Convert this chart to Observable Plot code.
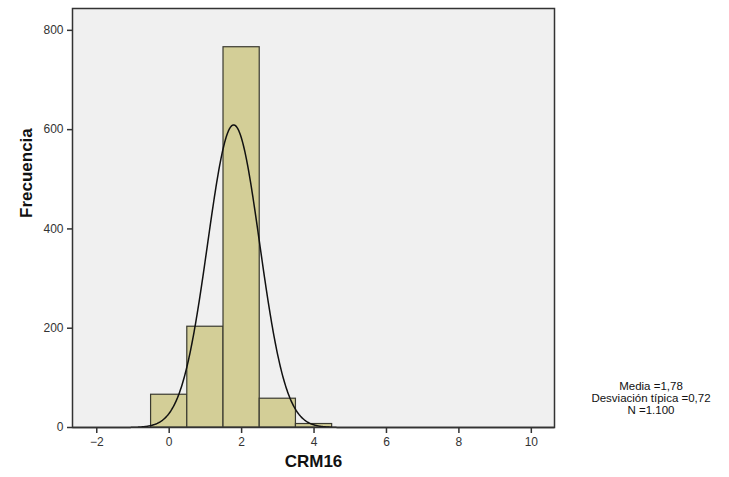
<!DOCTYPE html>
<html>
<head>
<meta charset="utf-8">
<script src="https://cdn.jsdelivr.net/npm/d3@7"></script>
<script src="https://cdn.jsdelivr.net/npm/@observablehq/plot@0.6"></script>
<style>
  html, body { margin: 0; padding: 0; background: #fff; }
  #wrap { position: relative; width: 729px; height: 477px; font-family: "Liberation Sans", Arial, sans-serif; }
  #stats { position: absolute; left: 571px; width: 160px; top: 380px; text-align: center; font-size: 11.5px; line-height: 12px; color: #111; }
</style>
</head>
<body>
<div id="wrap"></div>
<script>
// Histogram bins (centre of bin, width 1) and frequencies
const binCenters = [0, 1, 2, 3, 4];
const frequencies = [66, 203, 766, 58, 7];
const yTicks = [0, 200, 400, 600, 800];
const xTicks = [-2, 0, 2, 4, 6, 8, 10];
// Summary statistics shown in the legend
const media = 1.78;
const desviacion = 0.72;
const nTotal = 1100;
const statLines = ["Media =1,78", "Desviación típica =0,72", "N =1.100"];

const bins = binCenters.map((c, i) => ({x1: c - 0.5, x2: c + 0.5, y: frequencies[i]}));

// Fitted normal curve from the displayed mean, sd and N (bin width 1)
const xDomain = [-2.67, 10.64];
const curve = d3.range(xDomain[0], xDomain[1] + 0.001, 0.02).map(x => ({
  x,
  y: nTotal * Math.exp(-0.5 * ((x - media) / desviacion) ** 2) / (desviacion * Math.sqrt(2 * Math.PI))
}));

const chart = Plot.plot({
  width: 729,
  height: 477,
  marginLeft: 72,
  marginRight: 175,
  marginTop: 8,
  marginBottom: 50,
  style: {fontFamily: "Liberation Sans, Arial, sans-serif", fontSize: "12px", color: "#222", background: "#fff"},
  x: {domain: xDomain},
  y: {domain: [0, 844]},
  marks: [
    Plot.frame({fill: "#f0f0f0", stroke: null}),
    Plot.rectY(bins, {x1: "x1", x2: "x2", y: "y", fill: "#d3ce97", stroke: "#3a3a30", strokeWidth: 1.2}),
    Plot.line(curve, {x: "x", y: "y", stroke: "#111", strokeWidth: 1.5, curve: "linear"}),
    Plot.frame({stroke: "#333", strokeWidth: 1.5}),
    Plot.axisY({ticks: yTicks, tickSize: 5, tickPadding: 4, label: null, stroke: "#333", strokeWidth: 1.5, fill: "#333", fontSize: 12}),
    Plot.axisX({ticks: xTicks, tickSize: 6, tickPadding: 4, label: null, stroke: "#333", strokeWidth: 1.5, fill: "#333", fontSize: 12}),
    Plot.text(["Frecuencia"], {frameAnchor: "left", rotate: -90, dx: -46, fontWeight: "bold", fontSize: 17, fill: "#111"}),
    Plot.text(["CRM16"], {frameAnchor: "bottom", dy: 39, fontWeight: "bold", fontSize: 17, fill: "#111"})
  ]
});

const wrap = document.getElementById("wrap");
wrap.appendChild(chart);
const stats = document.createElement("div");
stats.id = "stats";
stats.innerHTML = statLines.map(s => `<div>${s}</div>`).join("");
wrap.appendChild(stats);
</script>
</body>
</html>
